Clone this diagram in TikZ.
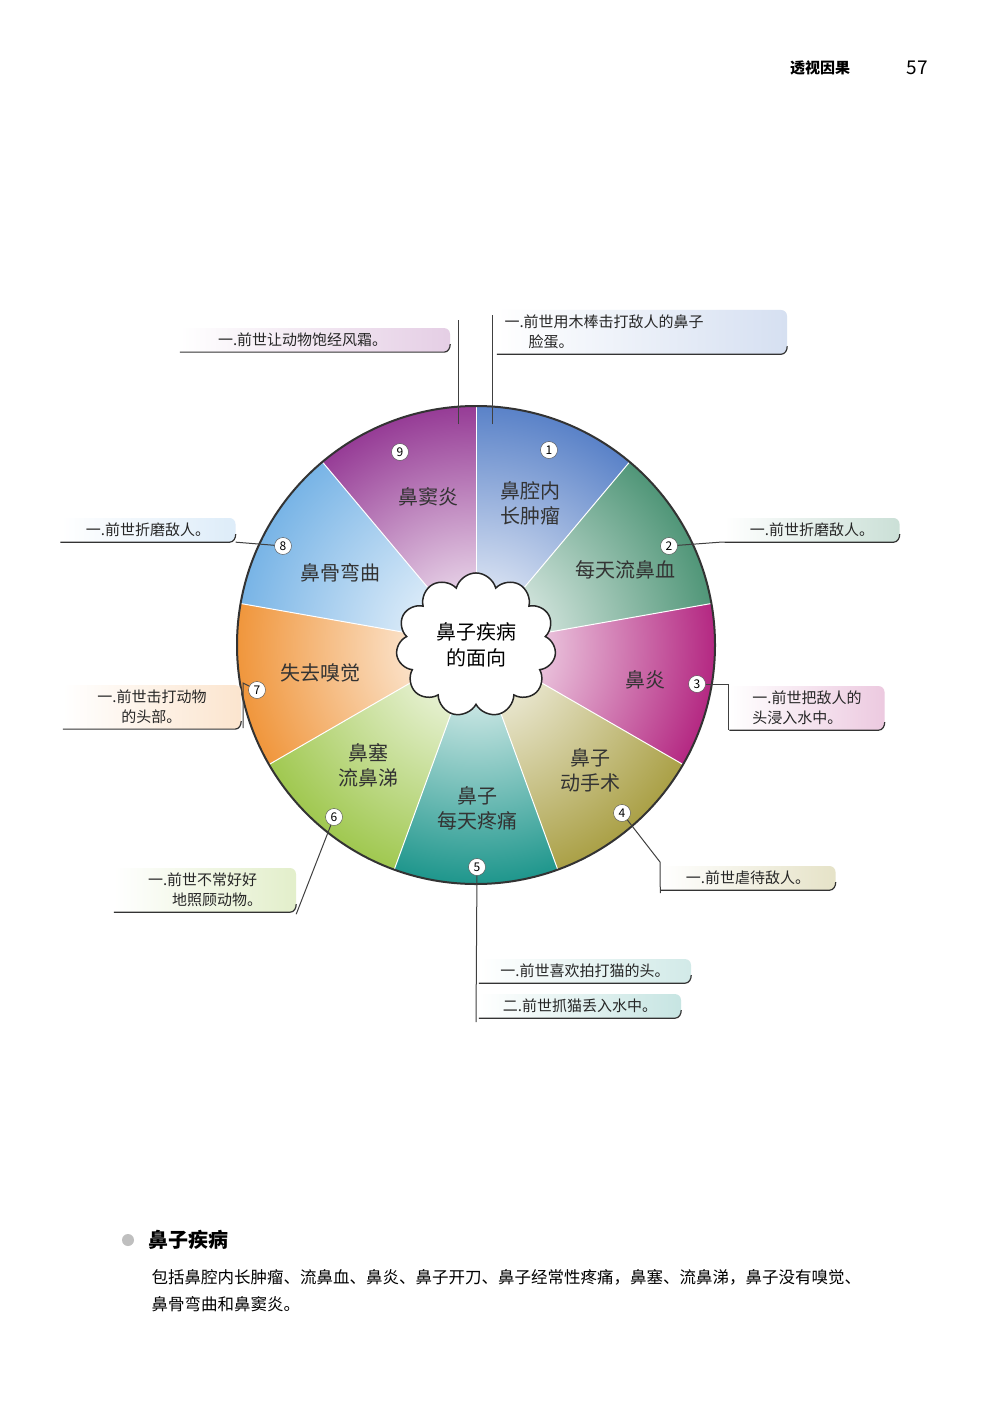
\documentclass[tikz,border=0pt]{standalone}
\usepackage{fontspec}
\setmainfont{Noto Sans CJK SC}
\usetikzlibrary{shapes.symbols,calc}
\definecolor{c1}{RGB}{90,130,200}
\definecolor{c2}{RGB}{80,150,120}
\definecolor{c3}{RGB}{180,40,130}
\definecolor{c4}{RGB}{170,160,70}
\definecolor{c5}{RGB}{30,150,140}
\definecolor{c6}{RGB}{160,200,80}
\definecolor{c7}{RGB}{240,150,60}
\definecolor{c8}{RGB}{120,180,230}
\definecolor{c9}{RGB}{150,60,150}
\tikzset{
 lbox/.style={rounded corners=6pt, left color=white, inner sep=5pt, align=left, font=\fontsize{15}{20}\selectfont, text=black!85},
 seclab/.style={align=center, font=\fontsize{20}{25}\selectfont, text=black!80},
 num/.style={circle, draw=black!70, fill=white, inner sep=0pt, minimum size=17pt, font=\fontsize{12}{12}\selectfont},
 lead/.style={draw=black!75, line width=1pt},
 uline/.style={draw=black!80, line width=1.2pt}
}
\newcommand{\bline}[1]{\draw[uline] (#1.south west) -- ([xshift=-6pt]#1.south east) to[out=0,in=-90] ([yshift=8pt]#1.south east);}
\begin{document}
\begin{tikzpicture}[x=1pt,y=1pt]
\useasboundingbox (0,0) rectangle (1000,-1415);
\fill[white] (0,0) rectangle (1000,-1415);
\node[font=\fontsize{15}{15}\selectfont\bfseries] (hd) at (820,-68) {透视因果};
\node[font=\fontsize{19}{19}\selectfont] (pg) at (917,-68) {57};
\coordinate (O) at (476,-645);
\def\R{239}
\foreach \i/\a in {1/90,2/50,3/10,4/-30,5/-70,6/-110,7/-150,8/-190,9/-230}{
 \begin{scope}
 \clip (O) -- ++(\a:\R) arc[start angle=\a, end angle=\a-40, radius=\R] -- cycle;
 \shade[inner color=white, outer color=c\i] (O) circle (\R);
 \end{scope}
 \draw[white, line width=1pt] (O) -- ++(\a:\R);
}
\draw[black!80, line width=2pt] (O) circle (\R);
\node[cloud, cloud puffs=11, draw=black!85, fill=white, line width=1.5pt, minimum width=160, minimum height=110, align=center, font=\fontsize{20}{26}\selectfont] (cl) at (O) {鼻子疾病\\的面向};
\node[seclab] (s1) at (530,-503) {鼻腔内\\长肿瘤};
\node[seclab] (s2) at (625,-570) {每天流鼻血};
\node[seclab] (s3) at (645,-680) {鼻炎};
\node[seclab] (s4) at (590,-770) {鼻子\\动手术};
\node[seclab] (s5) at (477,-808) {鼻子\\每天疼痛};
\node[seclab] (s6) at (368,-765) {鼻塞\\流鼻涕};
\node[seclab] (s7) at (320,-673) {失去嗅觉};
\node[seclab] (s8) at (340,-573) {鼻骨弯曲};
\node[seclab] (s9) at (428,-497) {鼻窦炎};
\node[num] (n1) at (549,-450) {1};
\node[num] (n2) at (669,-546) {2};
\node[num] (n3) at (697,-684) {3};
\node[num] (n4) at (622,-813) {4};
\node[num] (n5) at (477,-867) {5};
\node[num] (n6) at (334,-817) {6};
\node[num] (n7) at (257,-690) {7};
\node[num] (n8) at (283,-546) {8};
\node[num] (n9) at (400,-452) {9};
\node[lbox, right color=c9!25, minimum width=270, text width=250] (b9) at (315,-340) {\hspace*{28pt}一.前世让动物饱经风霜。};
\node[lbox, right color=c1!25, minimum width=290, text width=275] (b1) at (642,-332) {一.前世用木棒击打敌人的鼻子\\\hspace*{24pt}脸蛋。};
\node[lbox, right color=c8!25, minimum width=175] (b8) at (148,-530) {一.前世折磨敌人。};
\node[lbox, right color=c2!30, minimum width=175] (b2) at (812,-530) {一.前世折磨敌人。};
\node[lbox, right color=c3!25, minimum width=155] (b3) at (807,-708) {一.前世把敌人的\\头浸入水中。};
\node[lbox, right color=c7!25, minimum width=178] (b7) at (152,-707) {一.前世击打动物\\\hspace*{24pt}的头部。};
\node[lbox, right color=c6!30, minimum width=182] (b6) at (205,-890) {一.前世不常好好\\\hspace*{24pt}地照顾动物。};
\node[lbox, right color=c4!30, minimum width=175] (b4) at (748,-878) {一.前世虐待敌人。};
\node[lbox, right color=c5!20, minimum width=212] (b5a) at (585,-971) {一.前世喜欢拍打猫的头。};
\node[lbox, right color=c5!25, minimum width=202] (b5b) at (580,-1006) {二.前世抓猫丢入水中。};
\foreach \b in {b9,b1,b8,b2,b3,b7,b6,b4,b5a,b5b}{\bline{\b}}
\coordinate (t9) at (458,-424);
\draw[lead] (t9) -- (458,-320);
\coordinate (t1) at (492,-424);
\draw[lead] (t1) -- (492,-315);
\draw[lead] (n8) -- (b8.south east);
\draw[lead] (n2) -- ([xshift=-4pt]b2.south west) -- (b2.south west);
\draw[lead] (n3) -- (728,-684) -- (728,-730);
\draw[lead] (n7) -- (243,-683) -- (243,-728);
\draw[lead] (n6) -- ([yshift=-2pt]b6.south east);
\draw[lead] (n4) -- (660,-862) -- ([yshift=-3pt]b4.south west);
\draw[lead] (n5) -- (476,-1022);
\fill[black!25] (128,-1240) circle (6);
\node[anchor=west, font=\fontsize{20}{20}\selectfont\bfseries] (tt) at (145,-1240) {鼻子疾病};
\node[anchor=north west, align=left, font=\fontsize{16.5}{27}\selectfont] (para) at (148,-1266) {包括鼻腔内长肿瘤、流鼻血、鼻炎、鼻子开刀、鼻子经常性疼痛，鼻塞、流鼻涕，鼻子没有嗅觉、\\鼻骨弯曲和鼻窦炎。};
\end{tikzpicture}
\end{document}
